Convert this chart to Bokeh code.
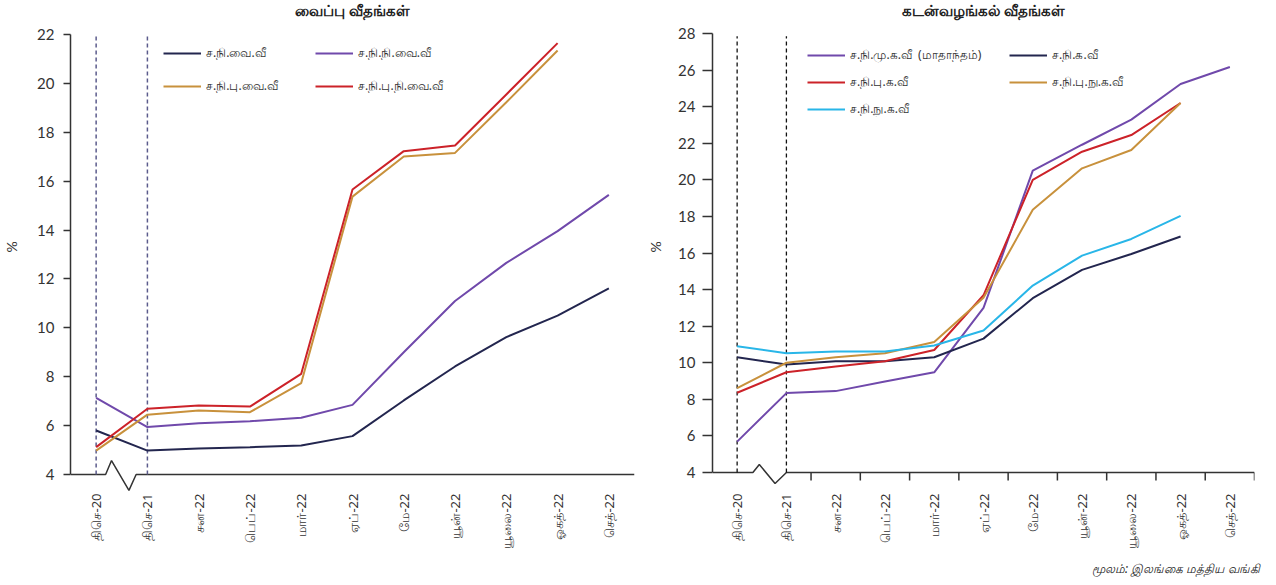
import numpy as np
from bokeh.plotting import figure
from bokeh.models import FixedTicker, Legend, LegendItem, Label, Title
from bokeh.layouts import row
from bokeh.embed import file_html
from bokeh.resources import INLINE

nan = float("nan")

# ---------------- data ----------------
months = ["திசெ-20", "திசெ-21", "சன-22", "பெப்-22", "மார்-22", "ஏப்-22",
          "மே-22", "யூன்-22", "யூலை-22", "ஓகத்-22", "செத்-22"]

# Deposit rates (left)
dep_names = ["ச.நி.வை.வீ", "ச.நி.நி.வை.வீ", "ச.நி.பு.வை.வீ", "ச.நி.பு.நி.வை.வீ"]
dep_awdr = [5.80, 4.98, 5.06, 5.12, 5.19, 5.57, 7.03, 8.42, 9.62, 10.50, 11.62]
dep_awfdr = [7.14, 5.94, 6.10, 6.18, 6.32, 6.85, 9.00, 11.10, 12.66, 13.96, 15.44]
dep_awndr = [4.98, 6.45, 6.62, 6.55, 7.74, 15.37, 17.01, 17.16, 19.23, 21.35, nan]
dep_awnfdr = [5.12, 6.69, 6.82, 6.78, 8.12, 15.66, 17.23, 17.46, 19.55, 21.65, nan]

# Lending rates (right)
lend_names = ["ச.நி.மு.க.வீ  (மாதாந்தம்)", "ச.நி.க.வீ", "ச.நி.பு.க.வீ",
              "ச.நி.பு.நு.க.வீ", "ச.நி.நு.க.வீ"]
lend_awpr = [5.69, 8.34, 8.45, 8.97, 9.48, 13.00, 20.50, 21.92, 23.29, 25.24, 26.17]
lend_awlr = [10.30, 9.90, 10.08, 10.08, 10.30, 11.32, 13.53, 15.08, 15.95, 16.90, nan]
lend_awnlr = [8.36, 9.48, 9.79, 10.08, 10.70, 13.69, 20.00, 21.54, 22.45, 24.20, nan]
lend_awnclr = [8.61, 10.00, 10.30, 10.52, 11.14, 13.55, 18.36, 20.63, 21.63, 24.20, nan]
lend_awclr = [10.90, 10.52, 10.61, 10.61, 10.94, 11.76, 14.22, 15.86, 16.77, 18.03, nan]

left_ticks = list(range(4, 23, 2))
right_ticks = list(range(4, 29, 2))

# ---------------- styles ----------------
NAVY = "#23264f"
PURPLE = "#7049ab"
GOLD = "#c8913c"
RED = "#cc2229"
CYAN = "#29b6e8"
AX = "#333333"
NUM_FONT = "Lato"
TXT_FONT = "Noto Sans"
FH = 493

idx = list(range(len(months)))


def base_fig(yr, fw, bl, br, bb):
    p = figure(x_range=(-0.5, 10.5), y_range=yr, frame_width=fw, frame_height=FH,
               min_border_left=bl, min_border_right=br, min_border_top=0,
               min_border_bottom=bb, output_backend="svg", toolbar_location=None)
    p.grid.visible = False
    p.outline_line_color = None
    p.xaxis.axis_line_color = None
    p.xaxis.major_tick_line_color = None
    p.xaxis.minor_tick_line_color = None
    p.xaxis.major_tick_out = 0
    p.xaxis.major_tick_in = 0
    p.xaxis.major_label_standoff = 0
    p.xaxis.ticker = FixedTicker(ticks=idx, minor_ticks=[])
    p.xaxis.major_label_orientation = np.pi / 2
    p.xaxis.major_label_overrides = {i: m for i, m in enumerate(months)}
    p.xaxis.major_label_text_font = TXT_FONT
    p.xaxis.major_label_text_font_size = "13px"
    p.xaxis.major_label_text_color = AX
    p.yaxis.axis_line_color = AX
    p.yaxis.axis_line_width = 1.5
    p.yaxis.major_tick_line_color = AX
    p.yaxis.major_tick_line_width = 1.5
    p.yaxis.major_tick_in = 0
    p.yaxis.minor_tick_line_color = None
    p.yaxis.major_label_text_font = NUM_FONT
    p.yaxis.major_label_text_font_size = "15px"
    p.yaxis.major_label_text_color = AX
    p.yaxis.axis_label = "%"
    p.yaxis.axis_label_text_font = NUM_FONT
    p.yaxis.axis_label_text_font_style = "normal"
    p.yaxis.axis_label_text_font_size = "14px"
    p.yaxis.axis_label_text_color = AX
    return p


def legend(items, loc, lw, lh):
    return Legend(items=items, ncols=2, location=loc, padding=0, margin=0, spacing=0,
                  glyph_width=38, glyph_height=20, label_width=lw, label_height=lh,
                  label_standoff=5, label_text_font=TXT_FONT, label_text_font_size="12px",
                  label_text_color=AX, border_line_color=None, background_fill_alpha=0)


def title_label(text):
    return Label(x=5, y=FH - 9, x_units="data", y_units="screen", text=text,
                 text_align="center", text_baseline="middle", text_font=TXT_FONT,
                 text_font_style="bold", text_font_size="15px", text_color="#222222")


# ---------------- left chart ----------------
pl = base_fig((3.223, 23.395), 564, 62, 10, 84)
pl.yaxis.ticker = FixedTicker(ticks=left_ticks, minor_ticks=[])
pl.yaxis.bounds = (4, 22)
pl.yaxis.major_tick_out = 7
pl.yaxis.major_label_standoff = 9
pl.yaxis.axis_label_standoff = 14

# axis line with break marker
pl.line([-0.5, 0.185, 0.30, 0.64, 0.78, 10.5], [4, 4, 4.57, 3.35, 4, 4],
        line_color=AX, line_width=1.5)
pl.segment(x0=[0, 1], y0=[4, 4], x1=[0, 1], y1=[22, 22], line_color="#5b5b8c",
           line_width=1.5, line_dash="4 3")

rl = {}
for key, ys, c in zip(dep_names, [dep_awdr, dep_awfdr, dep_awndr, dep_awnfdr],
                      [NAVY, PURPLE, GOLD, RED]):
    rl[key] = pl.line(idx, ys, line_color=c, line_width=2)

# column-major fill: col1 = names 0, 2 ; col2 = names 1, 3
order_l = [0, 2, 1, 3]
pl.add_layout(legend([LegendItem(label=dep_names[i], renderers=[rl[dep_names[i]]])
                      for i in order_l], (93, 391), 109, 33))
pl.add_layout(title_label("வைப்பு வீதங்கள்"))

# ---------------- right chart ----------------
pr = base_fig((2.852, 29.806), 542, 66, 16, 84)
pr.yaxis.ticker = FixedTicker(ticks=right_ticks, minor_ticks=[])
pr.yaxis.bounds = (4, 28)
pr.yaxis.major_tick_out = 10
pr.yaxis.major_label_standoff = 7
pr.yaxis.axis_label_standoff = 11

pr.line([-0.5, 0.32, 0.45, 0.77, 1.0, 10.5], [4, 4, 4.44, 3.40, 4, 4],
        line_color=AX, line_width=1.5)
bx = [i + 0.5 for i in idx[1:]]
pr.segment(x0=bx, y0=[4] * len(bx), x1=bx, y1=[3.56] * len(bx),
           line_color=AX, line_width=1.5)
pr.segment(x0=[0, 1], y0=[4, 4], x1=[0, 1], y1=[27.85, 27.85], line_color="#111111",
           line_width=1.3, line_dash="4 3")

rr = {}
for key, ys, c in zip(lend_names, [lend_awpr, lend_awlr, lend_awnlr, lend_awnclr, lend_awclr],
                      [PURPLE, NAVY, RED, GOLD, CYAN]):
    rr[key] = pr.line(idx, ys, line_color=c, line_width=2)

# column-major fill, 3 rows: col1 = 0, 2, 4 ; col2 = 1, 3
order_r = [0, 2, 4, 1, 3]
pr.add_layout(legend([LegendItem(label=lend_names[i], renderers=[rr[lend_names[i]]])
                      for i in order_r], (95, 371), 159, 27))
pr.add_layout(title_label("கடன்வழங்கல் வீதங்கள்"))
pr.add_layout(Title(text="மூலம்: இலங்கை மத்திய வங்கி", align="right", offset=-5,
                    standoff=12, text_font=TXT_FONT, text_font_style="italic",
                    text_font_size="12px", text_color="#222222"), "below")

layout = row(pl, pr)
open("out.html", "w").write(file_html(layout, INLINE))
